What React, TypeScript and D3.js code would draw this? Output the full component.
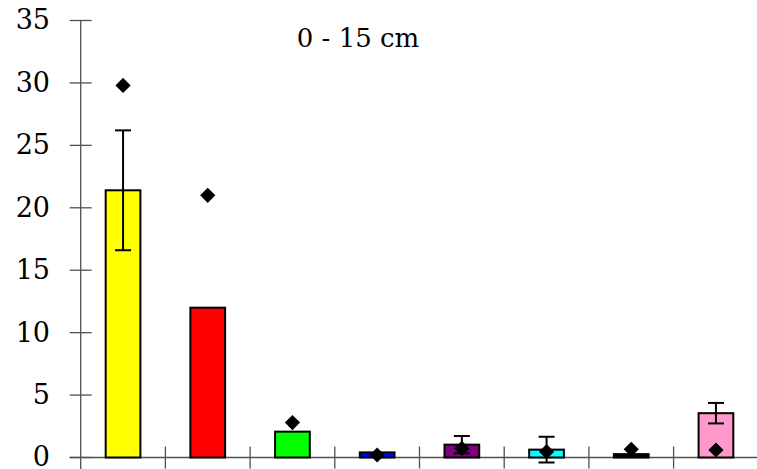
import React from "react";
import * as d3 from "d3";

const categories = ["A", "B", "C", "D", "E", "F", "G", "H"];
const barColors = ["#ffff00", "#ff0000", "#00ff00", "#0000ff", "#800080", "#00ffff", "#000000", "#ff99cc"];
const means = [21.4, 12.0, 2.07, 0.41, 1.03, 0.63, 0.27, 3.55];
const errors = [4.8, 0, 0, 0, 0.69, 1.03, 0, 0.82];
const diamonds = [29.8, 21.0, 2.8, 0.2, 0.73, 0.47, 0.66, 0.6];
const yTicks = [0, 5, 10, 15, 20, 25, 30, 35];
const title = "0 - 15 cm";

const W = 757;
const H = 469;
const left = 80.7;
const step = 84.7;
const zeroY = 457.5;
const topY = 20.5;

const App = () => {
    const x = d3.scaleBand<string>()
        .domain(categories)
        .range([left, left + step * categories.length])
        .padding(0);

    const y = d3.scaleLinear()
        .domain([0, 35])
        .range([zeroY, topY]);

    const barW = x.bandwidth() * 0.41;
    const axisColor = "#505050";
    const font = "DejaVu Serif";

    // diamond marker, about 15px across
    const d = 7.6;
    const diamondPath = `M0,${-d}L${d},0L0,${d}L${-d},0Z`;

    // tick positions on the x axis are the band edges
    const xTicks = categories.map(c => x(c) as number).concat([x.range()[1]]);

    return (
        <svg width={W} height={H} style={{position: "absolute", left: 0, top: 0}}>
            <rect x={0} y={0} width={W} height={H} fill="#fff"/>

            {/* y axis */}
            <line x1={left} x2={left} y1={topY} y2={H} stroke={axisColor} strokeWidth={1.3}/>
            {yTicks.map(t => (
                <g key={"y" + t}>
                    <line x1={left - 11} x2={left + 11} y1={y(t)} y2={y(t)} stroke={axisColor} strokeWidth={1.3}/>
                    <text x={50} y={y(t)} dy="0.33em" textAnchor="end" fontFamily={font} fontSize={27} fill="#000">{t}</text>
                </g>
            ))}

            {/* x axis */}
            <line x1={left - 11} x2={W} y1={zeroY} y2={zeroY} stroke={axisColor} strokeWidth={1.3}/>
            {xTicks.slice(1).map((t, i) => (
                <line key={"x" + i} x1={t} x2={t} y1={zeroY - 11} y2={zeroY + 11} stroke={axisColor} strokeWidth={1.3}/>
            ))}

            {/* bars */}
            {categories.map((c, i) => {
                const cx = (x(c) as number) + x.bandwidth() / 2;
                return (
                    <rect key={"b" + c} x={cx - barW / 2} y={y(means[i])} width={barW}
                          height={zeroY - y(means[i])} fill={barColors[i]} stroke="#000" strokeWidth={2}/>
                );
            })}

            {/* error bars */}
            {categories.map((c, i) => {
                if (!errors[i]) return null;
                const cx = (x(c) as number) + x.bandwidth() / 2;
                const hi = y(means[i] + errors[i]);
                const lo = y(means[i] - errors[i]);
                return (
                    <g key={"e" + c} stroke="#000" strokeWidth={2}>
                        <line x1={cx} x2={cx} y1={hi} y2={lo}/>
                        <line x1={cx - 8} x2={cx + 8} y1={hi} y2={hi}/>
                        <line x1={cx - 8} x2={cx + 8} y1={lo} y2={lo}/>
                    </g>
                );
            })}

            {/* diamond markers */}
            {categories.map((c, i) => {
                const cx = (x(c) as number) + x.bandwidth() / 2;
                return (
                    <path key={"d" + c} d={diamondPath}
                          transform={`translate(${cx},${y(diamonds[i])})`} fill="#000"/>
                );
            })}

            <text x={358} y={46.5} textAnchor="middle" fontFamily={font} fontSize={26} fill="#000">{title}</text>
        </svg>
    );
};

export default App;
